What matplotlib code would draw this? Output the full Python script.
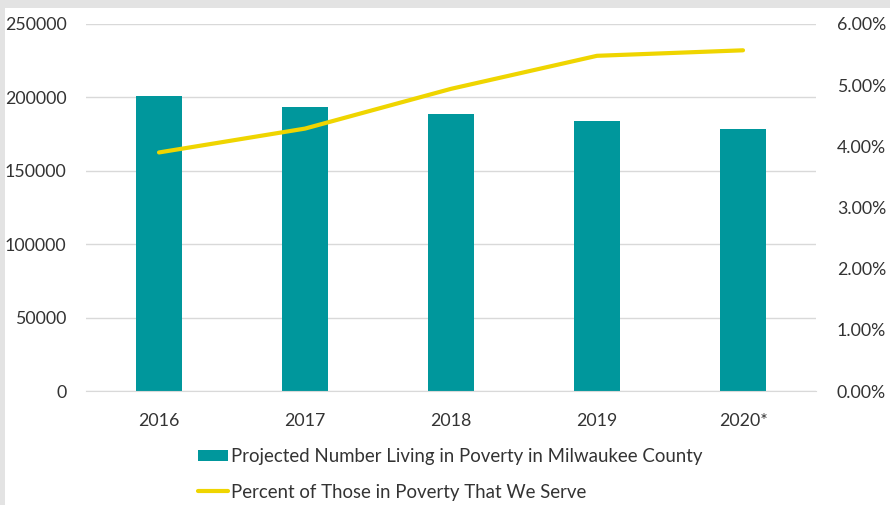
import matplotlib.pyplot as plt
import numpy as np
from matplotlib.patches import Rectangle
from matplotlib.ticker import FuncFormatter, MultipleLocator


# ============================================================
# DATA
# ============================================================

YEARS = ["2016", "2017", "2018", "2019", "2020*"]
POVERTY_COUNT = [201000, 193600, 188600, 183700, 178400]
PCT_SERVED = [0.0390, 0.0429, 0.0494, 0.0548, 0.0557]

BAR_LABEL = "Projected Number Living in Poverty in Milwaukee County"
LINE_LABEL = "Percent of Those in Poverty That We Serve"


# ============================================================
# STYLING
# ============================================================

BAR_COLOR = "#00979c"
LINE_COLOR = "#efd500"
GRID_COLOR = "#d9d9d9"
TEXT_COLOR = "#333333"
FRAME_COLOR = "#e3e3e3"
FONT = ["Lato", "DejaVu Sans"]
FONT_SIZE = 13.4
TICK_SIZE = 12.8

plt.rcParams["font.family"] = FONT
plt.rcParams["font.size"] = FONT_SIZE
plt.rcParams["text.color"] = TEXT_COLOR


def main():
    fig = plt.figure(figsize=(8.9, 5.05), dpi=100, facecolor=FRAME_COLOR)
    # white card inside the thin grey frame (left and top edges only)
    fig.patches.append(Rectangle((5 / 890, 0), 1, 1 - 8 / 505,
                                 transform=fig.transFigure,
                                 facecolor="white", edgecolor="none", zorder=-10))

    ax = fig.add_axes([86 / 890, 1 - 391 / 505, 730 / 890, 367 / 505])
    ax.set_facecolor("none")
    x = np.arange(len(YEARS))

    bars = ax.bar(x, POVERTY_COUNT, width=0.31, color=BAR_COLOR, zorder=2,
                  label=BAR_LABEL)
    ax.set_xlim(-0.5, len(YEARS) - 0.5)
    ax.set_ylim(0, 250000)
    ax.yaxis.set_major_locator(MultipleLocator(50000))
    ax.set_xticks(x, YEARS)
    ax.grid(axis="y", color=GRID_COLOR, linewidth=1, zorder=0)
    ax.set_axisbelow(True)
    for side in ("top", "left", "right"):
        ax.spines[side].set_visible(False)
    ax.spines["bottom"].set_color(GRID_COLOR)
    ax.tick_params(axis="y", length=0, pad=14, colors=TEXT_COLOR,
                   labelsize=TICK_SIZE)
    ax.tick_params(axis="x", length=0, pad=16, colors=TEXT_COLOR,
                   labelsize=TICK_SIZE)

    ax2 = ax.twinx()
    line, = ax2.plot(x, PCT_SERVED, color=LINE_COLOR, linewidth=3,
                     solid_capstyle="round", solid_joinstyle="round",
                     zorder=3, label=LINE_LABEL)
    ax2.set_ylim(0, 0.06)
    ax2.yaxis.set_major_locator(MultipleLocator(0.01))
    ax2.yaxis.set_major_formatter(FuncFormatter(lambda v, _: f"{v * 100:.2f}%"))
    for side in ("top", "left", "right", "bottom"):
        ax2.spines[side].set_visible(False)
    ax2.tick_params(axis="y", length=0, pad=15, colors=TEXT_COLOR,
                    labelsize=TICK_SIZE)

    fig.legend([bars, line], [BAR_LABEL, LINE_LABEL],
               loc="upper left", bbox_to_anchor=(198 / 890, 1 - 448 / 505),
               bbox_transform=fig.transFigure, frameon=False,
               borderpad=0, borderaxespad=0, handlelength=1.6,
               handleheight=0.6, handletextpad=0.15, labelspacing=1.0,
               fontsize=FONT_SIZE)

    fig.savefig("out.png", dpi=100, facecolor=fig.get_facecolor())


if __name__ == "__main__":
    main()
